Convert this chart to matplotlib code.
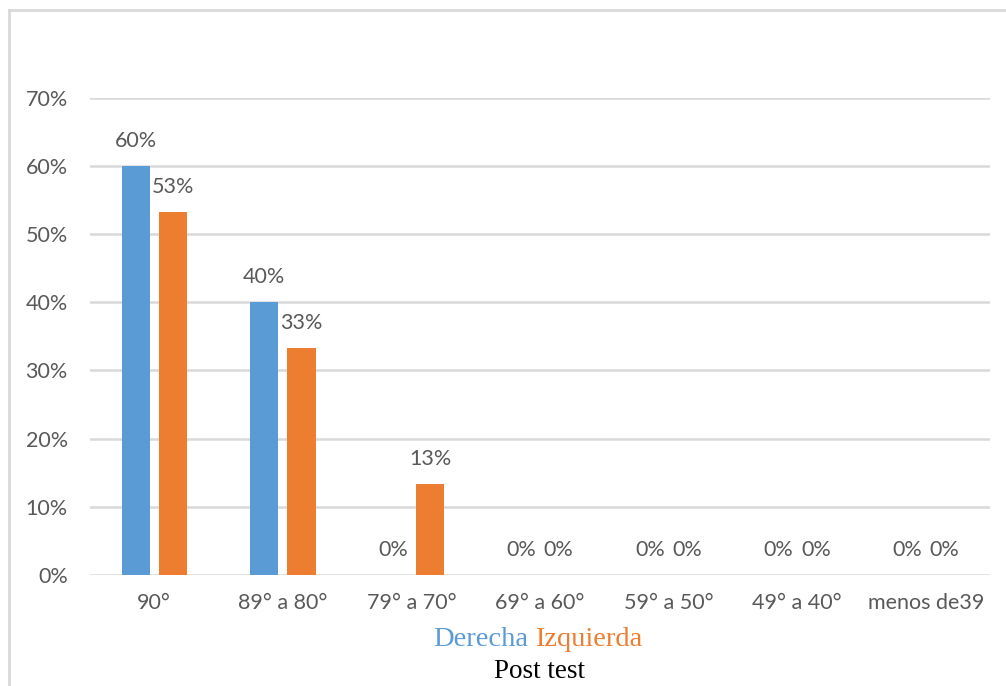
import matplotlib
matplotlib.use("Agg")
import matplotlib.pyplot as plt
from matplotlib.lines import Line2D
import numpy as np

categories = ["90°", "89° a 80°", "79° a 70°", "69° a 60°",
              "59° a 50°", "49° a 40°", "menos de39"]
derecha = [0.60, 0.40, 0.0, 0.0, 0.0, 0.0, 0.0]
izquierda = [0.533, 0.333, 0.133, 0.0, 0.0, 0.0, 0.0]
yticks = [0.0, 0.1, 0.2, 0.3, 0.4, 0.5, 0.6, 0.7]

BLUE = "#5B9BD5"
ORANGE = "#ED7D31"
GRAY = "#595959"
GRID = "#D9D9D9"

plt.rcParams["font.family"] = ["Lato", "DejaVu Sans"]

fig = plt.figure(figsize=(10.06, 6.86), dpi=100)
ax = fig.add_axes([90 / 1006, 111.3 / 686, 900 / 1006, 476.6 / 686])

x = np.arange(len(categories))
w = 0.218
off = 0.145
b1 = ax.bar(x - off, derecha, w, color=BLUE, zorder=3)
b2 = ax.bar(x + off, izquierda, w, color=ORANGE, zorder=3)

for bars, vals in ((b1, derecha), (b2, izquierda)):
    for rect, v in zip(bars, vals):
        ax.annotate(f"{v:.0%}", (rect.get_x() + rect.get_width() / 2, v),
                    xytext=(0, 18), textcoords="offset points",
                    ha="center", va="center", fontsize=15.5, color=GRAY)

ax.set_xlim(-0.5, len(categories) - 0.5)
ax.set_ylim(0, 0.7)
ax.set_yticks(yticks)
ax.set_yticklabels([f"{t:.0%}" for t in yticks])
ax.set_xticks(x)
ax.set_xticklabels(categories)
ax.tick_params(axis="both", length=0, labelsize=15.5, labelcolor=GRAY)
ax.tick_params(axis="y", pad=16)
ax.tick_params(axis="x", pad=13)
ax.grid(axis="y", color=GRID, linewidth=1.8, zorder=0)
for s in ax.spines.values():
    s.set_visible(False)

# legend as coloured words, caption underneath
fig.text(528 / 1006, 1 - 639 / 686, "Derecha", color=BLUE, ha="right",
         va="center", fontsize=20.5, family=["Liberation Serif"])
fig.text(535 / 1006, 1 - 639 / 686, "Izquierda", color=ORANGE, ha="left",
         va="center", fontsize=20.5, family=["Liberation Serif"])
fig.text(539 / 1006, 1 - 672 / 686, "Post test", color="black", ha="center",
         va="center", fontsize=19.5, family=["Liberation Serif"])

# outer frame (top and left edges)
fig.add_artist(Line2D([9 / 1006, 1], [1 - 10 / 686] * 2, color=GRID, lw=2,
                      transform=fig.transFigure))
fig.add_artist(Line2D([9 / 1006] * 2, [0, 1 - 10 / 686], color=GRID, lw=2,
                      transform=fig.transFigure))

fig.savefig("out.png", dpi=100)
